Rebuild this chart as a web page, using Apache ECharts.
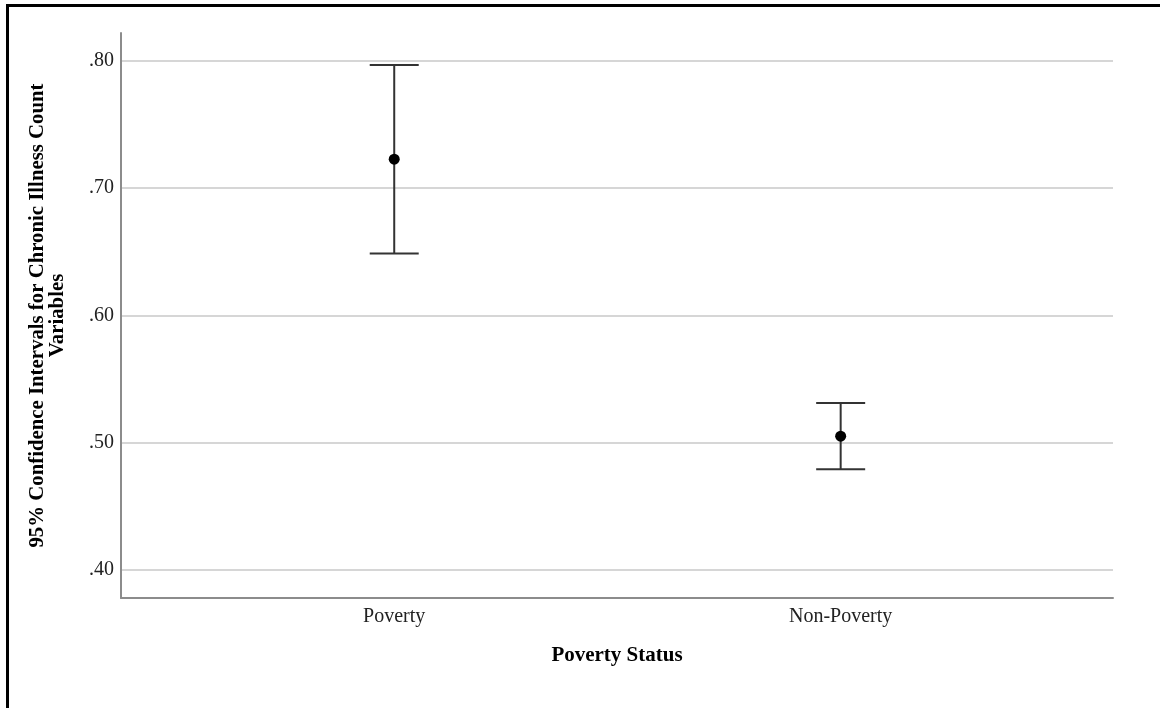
<!DOCTYPE html>
<html>
<head>
<meta charset="utf-8">
<script src="https://cdn.jsdelivr.net/npm/echarts@6/dist/echarts.min.js"></script>
<style>
  html, body { margin: 0; padding: 0; background: #fff; }
  #frame {
    position: absolute; left: 6px; top: 4px; width: 1160px; height: 710px;
    border-left: 3px solid #000; border-top: 3px solid #000;
  }
  #chart { position: absolute; left: 0; top: 0; width: 1160px; height: 708px; }
</style>
</head>
<body>
<div id="frame"></div>
<div id="chart"></div>
<script>
// categories and CI values
const categories = ['Poverty', 'Non-Poverty'];
const means = [0.7228, 0.5052];
const lower = [0.6488, 0.4792];
const upper = [0.7969, 0.5312];
const yTicks = [0.40, 0.50, 0.60, 0.70, 0.80];

const serif = '"Liberation Serif", "DejaVu Serif", serif';

let chart = echarts.init(document.getElementById('chart'));

let barData = categories.map((c, i) => [i, lower[i], upper[i]]);
let pointData = categories.map((c, i) => [i, means[i]]);

let option = {
  animation: false,
  grid: {
    left: 121,
    right: 47,
    top: 33,
    bottom: 110
  },
  xAxis: {
    type: 'value',
    min: -0.612,
    max: 1.61,
    name: 'Poverty Status',
    nameLocation: 'middle',
    nameGap: 47,
    nameTextStyle: { fontFamily: serif, fontWeight: 'bold', fontSize: 21, color: '#000' },
    axisLine: { show: true, onZero: false, lineStyle: { color: '#8c8c8c', width: 2 } },
    axisTick: { show: false },
    splitLine: { show: false },
    axisLabel: {
      customValues: [0, 1],
      margin: 9,
      fontFamily: serif,
      fontSize: 20,
      color: '#222',
      formatter: (v) => categories[Math.round(v)] || ''
    }
  },
  yAxis: {
    type: 'value',
    min: 0.378,
    max: 0.822,
    name: '95% Confidence Intervals for Chronic Illness Count\nVariables',
    nameLocation: 'middle',
    nameRotate: 90,
    nameGap: 53,
    nameTextStyle: { fontFamily: serif, fontWeight: 'bold', fontSize: 20.8, color: '#000', lineHeight: 20 },
    axisLine: { show: true, onZero: false, lineStyle: { color: '#8c8c8c', width: 2 } },
    axisTick: { show: false, customValues: yTicks },
    splitLine: { show: true, lineStyle: { color: '#c8c8c8', width: 1.5 } },
    axisLabel: {
      customValues: yTicks,
      margin: 7,
      fontFamily: serif,
      fontSize: 20,
      color: '#222',
      formatter: (v) => v.toFixed(2).replace(/^0/, '')
    }
  },
  series: [
    {
      type: 'custom',
      data: barData,
      renderItem: function (params, api) {
        let x = api.value(0);
        let lo = api.coord([x, api.value(1)]);
        let hi = api.coord([x, api.value(2)]);
        let half = 24.5;
        let style = { stroke: '#333', lineWidth: 2 };
        return {
          type: 'group',
          children: [
            { type: 'line', shape: { x1: hi[0], y1: hi[1], x2: lo[0], y2: lo[1] }, style: style },
            { type: 'line', shape: { x1: hi[0] - half, y1: hi[1], x2: hi[0] + half, y2: hi[1] }, style: style },
            { type: 'line', shape: { x1: lo[0] - half, y1: lo[1], x2: lo[0] + half, y2: lo[1] }, style: style }
          ]
        };
      },
      z: 2
    },
    {
      type: 'scatter',
      data: pointData,
      symbol: 'circle',
      symbolSize: 11,
      itemStyle: { color: '#000', opacity: 1 },
      z: 3
    }
  ]
};
chart.setOption(option);
</script>
</body>
</html>
